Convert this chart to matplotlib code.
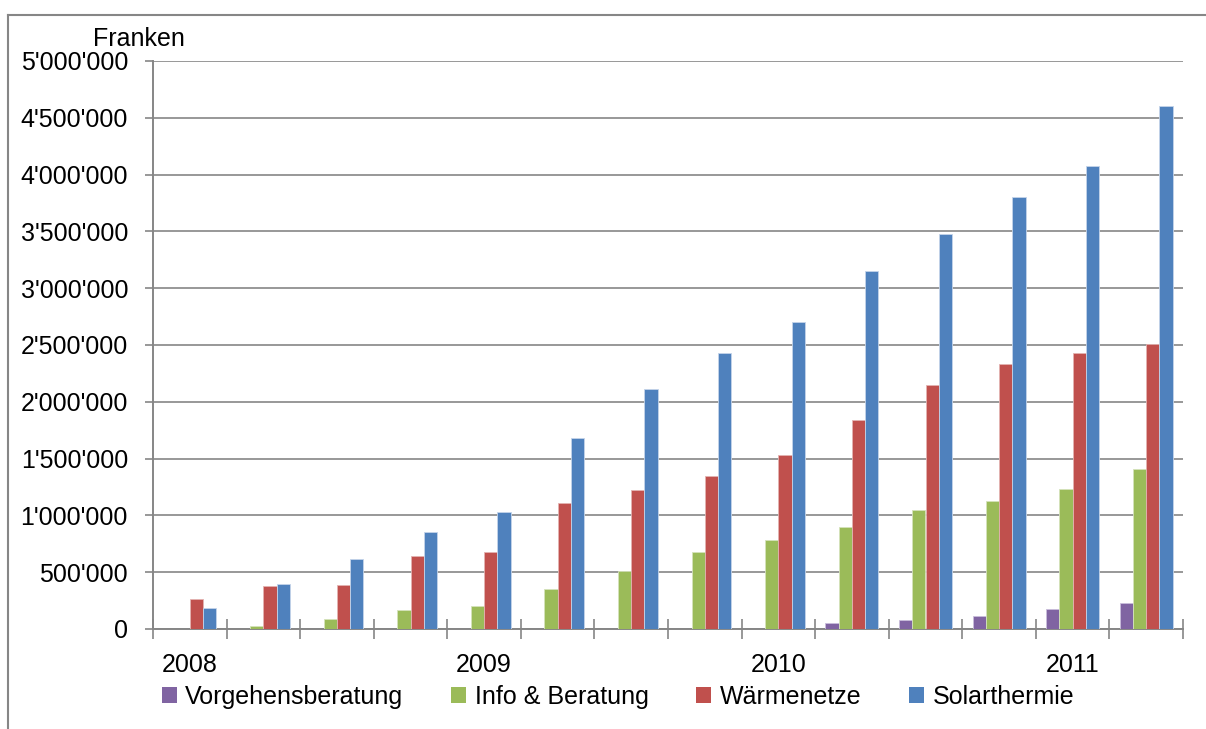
import numpy as np
import matplotlib
matplotlib.use('Agg')
import matplotlib.pyplot as plt
from matplotlib.patches import Patch
from matplotlib.lines import Line2D
from matplotlib.ticker import FuncFormatter

plt.rcParams['font.family'] = ['Liberation Sans', 'DejaVu Sans']

# data (Franken), 14 periods, years labelled every 4th period
years = ['2008', '2009', '2010', '2011']
year_pos = [0, 4, 8, 12]
n_periods = 14

series = ['Vorgehensberatung', 'Info & Beratung', 'Wärmenetze', 'Solarthermie']
vorgehensberatung = [0, 0, 0, 0, 0, 0, 0, 0, 0, 49000, 79000, 117000, 172000, 229000]
info_beratung = [0, 29000, 90000, 170000, 205000, 350000, 510000, 680000, 780000, 900000, 1050000, 1130000, 1235000, 1405000]
waermenetze = [267000, 380000, 390000, 640000, 680000, 1110000, 1220000, 1350000, 1530000, 1840000, 2150000, 2330000, 2430000, 2510000]
solarthermie = [185000, 400000, 620000, 850000, 1030000, 1680000, 2110000, 2430000, 2700000, 3150000, 3480000, 3800000, 4080000, 4600000]

colors = ['#8064A2', '#9BBB59', '#C0504D', '#4F81BD']
edges = ['#c9bedb', '#d5e3bb', '#e3b3b1', '#c4d4ea']
grid_col = '#868686'
fs = 18

fig = plt.figure(figsize=(12.06, 7.29), dpi=100)
ax = fig.add_axes([153/1206, 1 - 629/729, (1183 - 153)/1206, (629 - 61)/729])

x = np.arange(n_periods)
w = 0.18
data = [vorgehensberatung, info_beratung, waermenetze, solarthermie]
for i, (vals, c, ec) in enumerate(zip(data, colors, edges)):
    vals = np.array(vals)
    lw = np.where(vals > 0, 0.6, 0.0)
    ax.bar(x + (i - 1.5) * w, vals, width=w, color=c, edgecolor=ec, linewidth=lw, zorder=3)

ax.set_xlim(-0.5, n_periods - 0.5)
ax.set_ylim(0, 5000000)
ax.set_yticks(np.arange(0, 5000001, 500000))
ax.yaxis.set_major_formatter(FuncFormatter(lambda v, p: f"{v:,.0f}".replace(',', "'")))
ax.grid(axis='y', color=grid_col, linewidth=1.2, zorder=0)
ax.set_axisbelow(True)

ax.set_xticks(year_pos)
ax.set_xticklabels(years)
ax.set_xticks(np.arange(-0.5, n_periods, 1), minor=True)
ax.tick_params(axis='x', which='major', length=0, pad=17, labelsize=fs)
ax.tick_params(axis='x', which='minor', direction='inout', length=15, width=1.2, color=grid_col)
ax.tick_params(axis='y', length=6, width=1.2, color=grid_col, pad=12, labelsize=fs)

for s in ['top', 'right']:
    ax.spines[s].set_visible(False)
for s in ['left', 'bottom']:
    ax.spines[s].set_color(grid_col)
    ax.spines[s].set_linewidth(1.4)

fig.text(93/1206, 1 - 46/729, 'Franken', fontsize=fs, va='baseline', ha='left')

handles = [Patch(facecolor=c, edgecolor='none') for c in colors]
fig.legend(handles, series, loc='center', bbox_to_anchor=(618/1206, 1 - 697/729), ncol=4,
           frameon=False, fontsize=fs, handlelength=0.6, handleheight=0.6,
           handletextpad=0.35, columnspacing=1.9)

# outer frame
fig.add_artist(Line2D([8/1206, 1], [1 - 15/729, 1 - 15/729], color=grid_col, linewidth=1.5))
fig.add_artist(Line2D([8/1206, 8/1206], [0, 1 - 15/729], color=grid_col, linewidth=1.5))

fig.savefig('out.png', dpi=100)
